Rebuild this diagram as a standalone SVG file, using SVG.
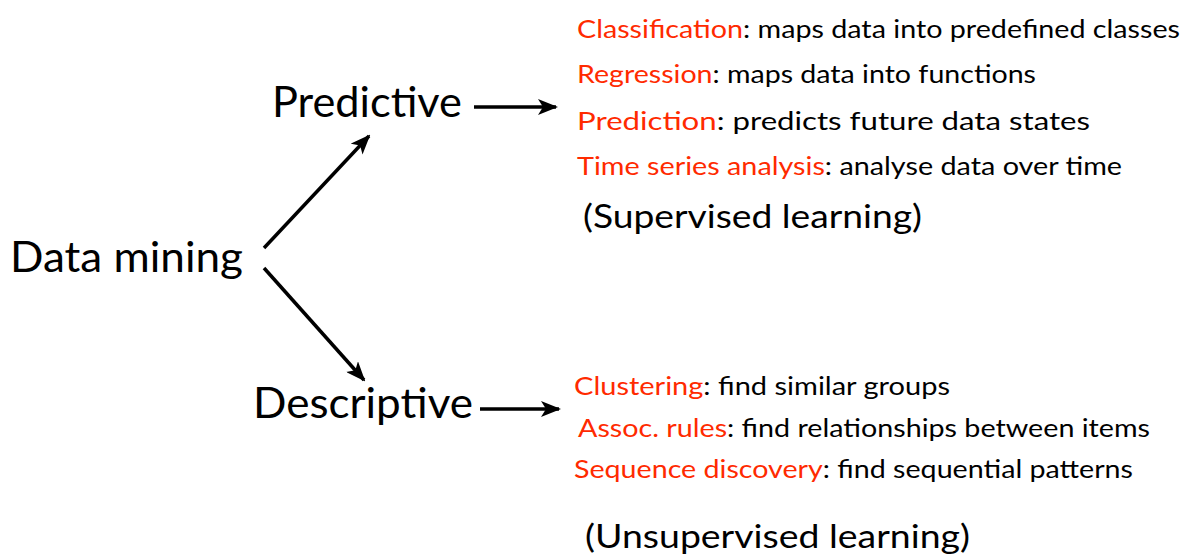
<svg xmlns="http://www.w3.org/2000/svg" width="1190" height="559" viewBox="0 0 1190 559">
<style>
text{font-family:"Lato","Open Sans","Liberation Sans",sans-serif;fill:#000}
.big{font-size:42px}
.item{font-size:25px}
.sub{font-size:33px}
.red{fill:#ff2a00}
.conn line{stroke:#000;stroke-width:3.5;fill:none}
</style>
<defs>
<marker id="ah" viewBox="0 0 20 16" refX="18" refY="8" markerWidth="20" markerHeight="16" markerUnits="userSpaceOnUse" orient="auto">
<path d="M0,0 L20,8 L0,16 L5,8 z" fill="#000"/>
</marker>
</defs>
<rect width="1190" height="559" fill="#fff"/>
<g id="data-mining"><text class="big" x="10" y="272" textLength="233" lengthAdjust="spacingAndGlyphs">Data mining</text></g>
<g id="predictive"><text class="big" x="272" y="117" textLength="190" lengthAdjust="spacingAndGlyphs">Predictive</text></g>
<g id="descriptive"><text class="big" x="253" y="418" textLength="220" lengthAdjust="spacingAndGlyphs">Descriptive</text></g>
<g id="predictive-items">
<text class="item" x="577" y="38" textLength="603" lengthAdjust="spacingAndGlyphs"><tspan class="red">Classification</tspan>: maps data into predefined classes</text>
<text class="item" x="577" y="83" textLength="459" lengthAdjust="spacingAndGlyphs"><tspan class="red">Regression</tspan>: maps data into functions</text>
<text class="item" x="577" y="130" textLength="513" lengthAdjust="spacingAndGlyphs"><tspan class="red">Prediction</tspan>: predicts future data states</text>
<text class="item" x="577" y="175" textLength="545" lengthAdjust="spacingAndGlyphs"><tspan class="red">Time series analysis</tspan>: analyse data over time</text>
<text class="sub" x="583" y="228" textLength="339" lengthAdjust="spacingAndGlyphs">(Supervised learning)</text>
</g>
<g id="descriptive-items">
<text class="item" x="574" y="395" textLength="376" lengthAdjust="spacingAndGlyphs"><tspan class="red">Clustering</tspan>: find similar groups</text>
<text class="item" x="578" y="437" textLength="572" lengthAdjust="spacingAndGlyphs"><tspan class="red">Assoc. rules</tspan>: find relationships between items</text>
<text class="item" x="574" y="478" textLength="559" lengthAdjust="spacingAndGlyphs"><tspan class="red">Sequence discovery</tspan>: find sequential patterns</text>
<text class="sub" x="585" y="548" textLength="385" lengthAdjust="spacingAndGlyphs">(Unsupervised learning)</text>
</g>
<g id="connectors" class="conn">
<line x1="264" y1="248" x2="369" y2="136" marker-end="url(#ah)"/>
<line x1="264" y1="268" x2="364" y2="380" marker-end="url(#ah)"/>
<line x1="474" y1="107" x2="556" y2="107" marker-end="url(#ah)"/>
<line x1="480" y1="409" x2="559" y2="409" marker-end="url(#ah)"/>
</g>
</svg>
